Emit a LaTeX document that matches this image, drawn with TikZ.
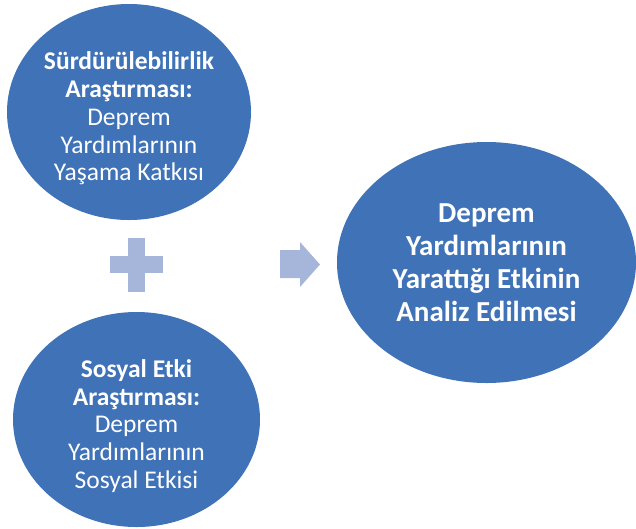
\documentclass[tikz,border=0pt]{standalone}
\usepackage{fontspec}
\setmainfont{Carlito}
\usetikzlibrary{shapes.geometric}
\definecolor{bubbleblue}{RGB}{63,114,182}
\definecolor{signblue}{RGB}{166,182,218}
\newcommand{\topstrut}{\rule{0pt}{31pt}}
\tikzset{
  bubble/.style={ellipse, fill=bubbleblue, text=white, inner sep=0pt, align=center,
    font=\fontsize{25.5}{27.8}\selectfont},
  sign/.style={fill=signblue}
}
\begin{document}
\begin{tikzpicture}[x=1pt, y=-1pt]
\useasboundingbox (0,0) rectangle (636,528);
\node[bubble, minimum width=244pt, minimum height=216pt] (surd) at (129,112)
  {\topstrut\textbf{Sürdürülebilirlik}\\\textbf{Araştırması:}\\Deprem\\Yardımlarının\\Yaşama Katkısı};
\node[bubble, minimum width=247pt, minimum height=215pt] (sosyal) at (136.5,419.5)
  {\topstrut\textbf{Sosyal Etki}\\\textbf{Araştırması:}\\Deprem\\Yardımlarının\\Sosyal Etkisi};
\node[bubble, minimum width=299pt, minimum height=241pt,
  font=\bfseries\fontsize{29}{32.8}\selectfont] (analiz) at (486.5,262.5)
  {Deprem\\Yardımlarının\\Yarattığı Etkinin\\Analiz Edilmesi};
\fill[sign] (110,256) rectangle (163,273);
\fill[sign] (128,238) rectangle (145,292);
\fill[sign] (280,250) -- (300,250) -- (300,242) -- (320,264.5) -- (300,287)
  -- (300,278) -- (280,278) -- cycle;
\end{tikzpicture}
\end{document}
